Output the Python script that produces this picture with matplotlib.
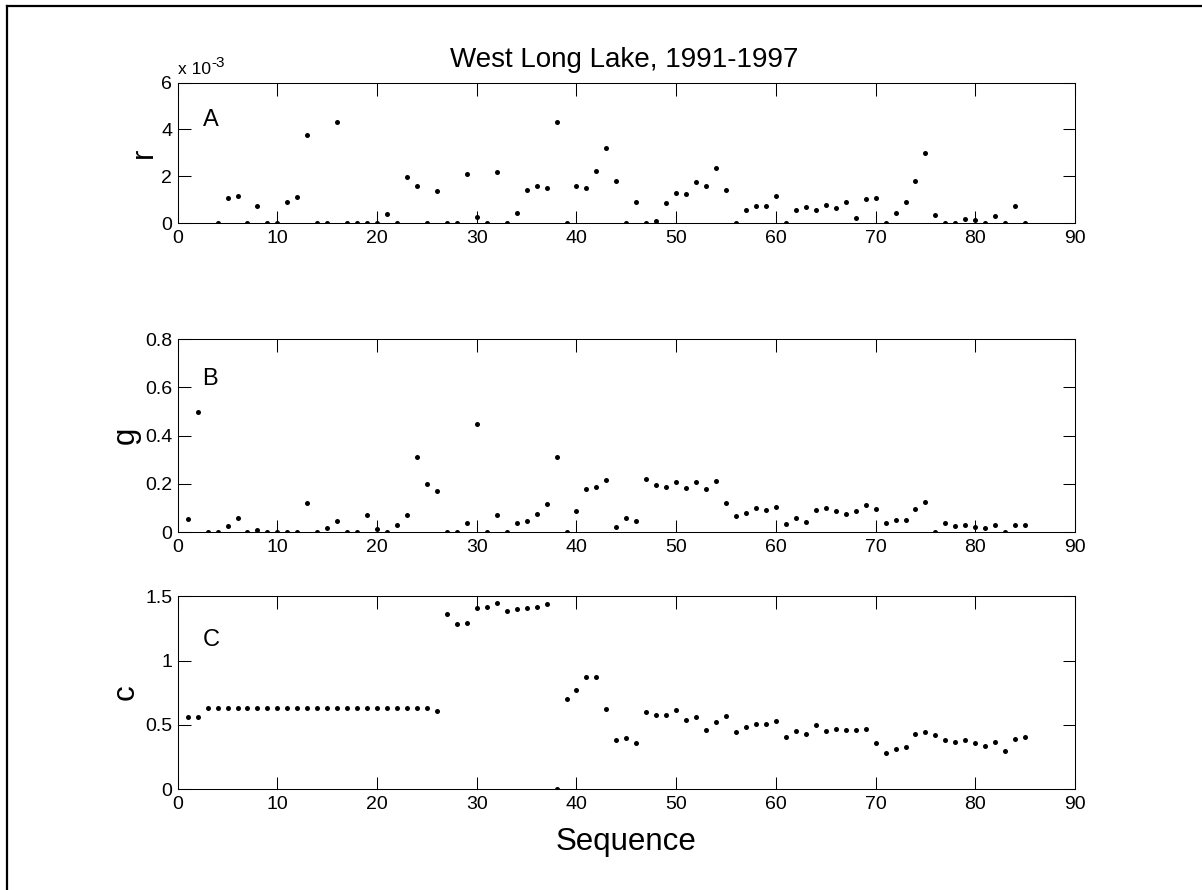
import matplotlib
matplotlib.use("Agg")
import matplotlib.pyplot as plt
from matplotlib.lines import Line2D
from matplotlib.ticker import FormatStrFormatter
import numpy as np

plt.rcParams['font.family'] = ['Liberation Sans', 'DejaVu Sans']

# sequence numbers
seq = list(range(1, 86))

# r values, in units of 1e-3 (first three missing)
r_vals = [np.nan, np.nan, np.nan,
          0, 1.08, 1.17, 0, 0.74, 0, 0,
          0.88, 1.13, 3.75, 0, 0, 4.33, 0, 0, 0, 0,
          0.37, 0, 1.95, 1.58, 0, 1.38, 0, 0, 2.08, 0.27,
          0, 2.17, 0, 0.41, 1.42, 1.58, 1.50, 4.33, 0, 1.58,
          1.50, 2.21, 3.19, 1.79, 0, 0.91, 0, 0.09, 0.84, 1.30,
          1.23, 1.75, 1.60, 2.34, 1.42, 0, 0.54, 0.74, 0.74, 1.17,
          0, 0.57, 0.70, 0.57, 0.76, 0.66, 0.91, 0.20, 1.01, 1.05,
          0, 0.41, 0.88, 1.79, 3.01, 0.33, 0, 0, 0.16, 0.13,
          0, 0.30, 0, 0.73, 0]

g_vals = [0.054, 0.498, 0, 0, 0.028, 0.058, 0, 0.008, 0, 0,
          0, 0, 0.123, 0, 0.017, 0.046, 0, 0, 0.070, 0.012,
          0, 0.030, 0.070, 0.310, 0.200, 0.172, 0, 0, 0.037, 0.447,
          0, 0.070, 0, 0.037, 0.046, 0.074, 0.119, 0.310, 0, 0.090,
          0.181, 0.188, 0.217, 0.023, 0.058, 0.046, 0.221, 0.196, 0.188, 0.208,
          0.183, 0.208, 0.179, 0.212, 0.123, 0.066, 0.081, 0.099, 0.094, 0.106,
          0.033, 0.058, 0.041, 0.094, 0.099, 0.090, 0.077, 0.090, 0.114, 0.098,
          0.037, 0.050, 0.050, 0.098, 0.127, 0, 0.037, 0.028, 0.030, 0.021,
          0.017, 0.030, 0, 0.030, 0.030]

c_vals = [0.563, 0.563, 0.628, 0.628, 0.628, 0.628, 0.628, 0.628, 0.628, 0.628,
          0.628, 0.628, 0.628, 0.628, 0.628, 0.628, 0.628, 0.628, 0.628, 0.628,
          0.628, 0.628, 0.628, 0.628, 0.628, 0.605, 1.360, 1.282, 1.290, 1.412,
          1.420, 1.451, 1.389, 1.404, 1.412, 1.420, 1.443, 0, 0.698, 0.773,
          0.872, 0.872, 0.620, 0.382, 0.397, 0.358, 0.597, 0.574, 0.574, 0.613,
          0.535, 0.563, 0.459, 0.519, 0.571, 0.444, 0.483, 0.503, 0.503, 0.527,
          0.405, 0.452, 0.428, 0.498, 0.452, 0.467, 0.459, 0.459, 0.467, 0.361,
          0.283, 0.314, 0.330, 0.428, 0.444, 0.420, 0.382, 0.366, 0.382, 0.361,
          0.337, 0.366, 0.298, 0.389, 0.405]

W, H = 1202, 890
fig = plt.figure(figsize=(W / 100, H / 100), dpi=100)

left = 177.7 / W
width = (1075 - 177.7) / W

def px_axes(top, bottom):
    return [left, 1 - bottom / H, width, (bottom - top) / H]

axA = fig.add_axes(px_axes(82.7, 223))
axB = fig.add_axes(px_axes(339, 532.3))
axC = fig.add_axes(px_axes(596.3, 789))

panels = [
    (axA, r_vals, (0, 6), [0, 2, 4, 6], 'A', 4.4, 'r'),
    (axB, g_vals, (0, 0.8), [0, 0.2, 0.4, 0.6, 0.8], 'B', 0.636, 'g'),
    (axC, c_vals, (0, 1.5), [0, 0.5, 1, 1.5], 'C', 1.16, 'c'),
]

for ax, vals, ylim, yticks, letter, ly, name in panels:
    ax.plot(seq, vals, 'o', color='black', ms=3.6, mew=0)
    ax.set_xlim(0, 90)
    ax.set_ylim(*ylim)
    ax.set_xticks(range(0, 91, 10))
    ax.set_yticks(yticks)
    ax.yaxis.set_major_formatter(FormatStrFormatter('%g'))
    ax.tick_params(direction='in', length=9, width=0.75, labelsize=14,
                   top=True, right=True, pad=5)
    ax.tick_params(axis='y', pad=4)
    for sp in ax.spines.values():
        sp.set_linewidth(0.75)
    ax.text(2.5, ly, letter, fontsize=17, ha='left', va='center')

# y axis labels
fig.text(151.7 / W, 1 - 152.9 / H, 'r', fontsize=22.5, rotation=90,
         rotation_mode='anchor', ha='center', va='baseline')
fig.text(133.6 / W, 1 - 435.6 / H, 'g', fontsize=22.5, rotation=90,
         rotation_mode='anchor', ha='center', va='baseline')
fig.text(133.5 / W, 1 - 692.6 / H, 'c', fontsize=22.5, rotation=90,
         rotation_mode='anchor', ha='center', va='baseline')

# x label and title
fig.text(626 / W, 1 - 850 / H, 'Sequence', fontsize=22.5, ha='center', va='baseline')
fig.text(624 / W, 1 - 66.7 / H, 'West Long Lake, 1991-1997', fontsize=20,
         ha='center', va='baseline')

# exponent label for panel A
fig.text(177.7 / W, 1 - 74 / H, 'x 10', fontsize=12.5, ha='left', va='baseline')
fig.text(211 / W, 1 - 66.7 / H, '-3', fontsize=11, ha='left', va='baseline')

# border on left and top
fig.add_artist(Line2D([7 / W, 7 / W], [0, 1 - 6 / H], color='black', lw=1.6,
                      transform=fig.transFigure))
fig.add_artist(Line2D([7 / W, 1], [1 - 6 / H, 1 - 6 / H], color='black', lw=1.6,
                      transform=fig.transFigure))

fig.savefig('out.png', dpi=100)
